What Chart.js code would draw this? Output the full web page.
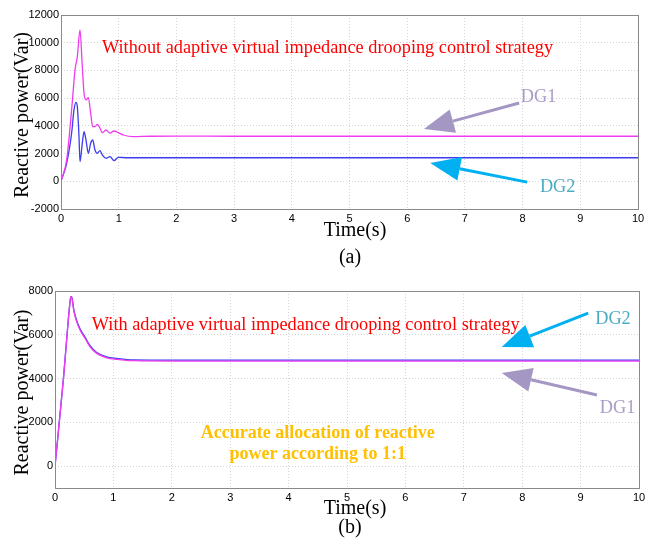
<!DOCTYPE html>
<html>
<head>
<meta charset="utf-8">
<script src="https://cdn.jsdelivr.net/npm/chart.js@4/dist/chart.umd.min.js"></script>
<style>
  html,body{margin:0;padding:0;background:#fff;}
  #wrap{position:relative;width:656px;height:546px;}
  canvas{position:absolute;left:0;}
  #cA{top:0;}
  #cB{top:270px;}
</style>
</head>
<body>
<div id="wrap">
  <canvas id="cA" width="656" height="270" style="width:656px;height:270px"></canvas>
  <canvas id="cB" width="656" height="276" style="width:656px;height:276px"></canvas>
</div>
<script>
// ---- data: (a) without adaptive virtual impedance ----
const timeA_DG1 = [0,0.098,0.184,0.243,0.283,0.329,0.369,0.399,0.433,0.474,0.514,0.549,0.589,0.629,0.676,0.716,0.78,0.849,0.919,0.993,1.08,1.25,1.54,2,3,4,5,6,7,8,9,10];
const qA_DG1    = [0,1540,5150,8040,9000,10920,8280,6350,5870,6040,4910,3940,3940,4110,3830,3510,3700,3470,3630,3510,3340,3220,3250,3260,3250,3250,3250,3250,3250,3250,3250,3250];
const timeA_DG2 = [0,0.098,0.184,0.225,0.26,0.283,0.312,0.329,0.369,0.399,0.433,0.474,0.514,0.549,0.589,0.629,0.676,0.716,0.78,0.849,0.919,0.993,1.14,1.5,2,3,4,5,6,7,8,9,10];
const qA_DG2    = [0,1300,3470,5150,5700,5390,3220,1420,2740,3580,2980,2020,2740,2980,2260,2020,2210,1900,1660,1780,1490,1730,1700,1700,1700,1700,1700,1700,1700,1700,1700,1700,1700];

// ---- data: (b) with adaptive virtual impedance ----
const timeB     = [0,0.142,0.257,0.27,0.285,0.325,0.371,0.428,0.514,0.6,0.714,0.885,1.056,1.34,2,3,4,5,6,7,8,9,10];
const qB_DG1    = [0,3930,7500,7740,7700,7050,6600,6220,5840,5450,5150,4950,4880,4815,4800,4800,4800,4800,4800,4800,4800,4800,4800];
const qB_DG2    = [0,3930,7500,7740,7740,7100,6650,6270,5890,5500,5190,4990,4920,4850,4840,4840,4840,4840,4840,4840,4840,4840,4840];

// ---- ticks ----
const xTicks  = [0,1,2,3,4,5,6,7,8,9,10];
const yTicksA = [-2000,0,2000,4000,6000,8000,10000,12000];
const yTicksB = [-1000,0,2000,4000,6000,8000];
const yLabelsB = ['','0','2000','4000','6000','8000'];

const MAGENTA = '#f03cf0', BLUE = '#3c3cf0';
const SERIF = '"Liberation Serif", "Times New Roman", serif';
const NOTE = '18.3px ' + SERIF;

function pts(ts, vs){ return ts.map((t,i)=>({x:t, y:vs[i]})); }

function arrow(ctx, x1, y1, x2, y2, color){
  const ang = Math.atan2(y2-y1, x2-x1), L = 30, W = 12;
  const bx = x2 - L*Math.cos(ang), by = y2 - L*Math.sin(ang);
  ctx.strokeStyle = color; ctx.fillStyle = color; ctx.lineWidth = 3;
  ctx.beginPath(); ctx.moveTo(x1,y1); ctx.lineTo(bx,by); ctx.stroke();
  ctx.beginPath(); ctx.moveTo(x2,y2);
  ctx.lineTo(bx + W*Math.sin(ang), by - W*Math.cos(ang));
  ctx.lineTo(bx - W*Math.sin(ang), by + W*Math.cos(ang));
  ctx.closePath(); ctx.fill();
}

const deco = {
  id: 'deco',
  afterDraw(chart, args, o){
    const ctx = chart.ctx, a = chart.chartArea, xs = chart.scales.x, ys = chart.scales.y;
    ctx.save();
    // plot box
    ctx.strokeStyle = '#8a8a8a'; ctx.lineWidth = 1;
    ctx.strokeRect(a.left+0.5, a.top+0.5, a.right-a.left, a.bottom-a.top);
    // arrows
    (o.arrows||[]).forEach(r => arrow(ctx, xs.getPixelForValue(r[0]), ys.getPixelForValue(r[1]),
      xs.getPixelForValue(r[2]), ys.getPixelForValue(r[3]), r[4]));
    // notes
    (o.notes||[]).forEach(n => {
      ctx.font = n.font; ctx.fillStyle = n.color; ctx.textAlign = n.align || 'left'; ctx.textBaseline = 'middle';
      ctx.fillText(n.text, xs.getPixelForValue(n.x), ys.getPixelForValue(n.y));
    });
    // axis titles and caption
    ctx.fillStyle = '#000'; ctx.font = '20px ' + SERIF; ctx.textAlign = 'center'; ctx.textBaseline = 'middle';
    ctx.fillText('Time(s)', 355, a.bottom + o.xTitleGap);
    ctx.fillText(o.caption, 350, a.bottom + o.captionGap);
    ctx.translate(23, (a.top + a.bottom)/2 + 3);
    ctx.rotate(-Math.PI/2);
    ctx.fillText('Reactive power(Var)', 0, 0);
    ctx.restore();
  }
};

function makeChart(id, cfg){
  return new Chart(document.getElementById(id), {
    type: 'line',
    data: { datasets: [
      { data: cfg.dg1, borderColor: MAGENTA, borderWidth: 1.3, pointRadius: 0, cubicInterpolationMode: 'monotone' },
      { data: cfg.dg2, borderColor: BLUE, borderWidth: 1.3, pointRadius: 0, cubicInterpolationMode: 'monotone' }
    ]},
    options: {
      responsive: false, animation: false, events: [],
      layout: { padding: { left: 0, right: cfg.padRight, top: cfg.padTop, bottom: 0 } },
      plugins: { legend: {display:false}, tooltip: {enabled:false}, deco: cfg.deco },
      scales: {
        x: {
          type: 'linear', min: 0, max: 10,
          afterBuildTicks: s => { s.ticks = xTicks.map(v=>({value:v})); },
          afterFit: s => { s.height = cfg.xAxisH; },
          grid: { color: '#d4d4d4', drawTicks: false },
          border: { display: false, dash: [1,2] },
          ticks: { color: '#000', padding: 3, font: { family: '"Liberation Sans", Arial, sans-serif', size: 11 } }
        },
        y: {
          min: cfg.yMin, max: cfg.yMax,
          afterBuildTicks: s => { s.ticks = cfg.yTicks.map(v=>({value:v})); },
          afterFit: s => { s.width = cfg.yAxisW; },
          grid: { color: '#d4d4d4', drawTicks: false },
          border: { display: false, dash: [1,2] },
          ticks: { color: '#000', padding: 2, font: { family: '"Liberation Sans", Arial, sans-serif', size: 11 },
                   callback: cfg.yLabel }
        }
      }
    },
    plugins: [deco]
  });
}

makeChart('cA', {
  dg1: pts(timeA_DG1, qA_DG1), dg2: pts(timeA_DG2, qA_DG2),
  yMin: -2000, yMax: 12000, yTicks: yTicksA, yLabel: v => String(v),
  padRight: 18, padTop: 15, xAxisH: 61, yAxisW: 61,
  deco: {
    caption: '(a)', xTitleGap: 22, captionGap: 49,
    notes: [
      { text: 'Without adaptive virtual impedance drooping control strategy', x: 0.71, y: 9600, color: '#ff0000', font: NOTE },
      { text: 'DG1', x: 7.97, y: 6090, color: '#a99ac6', font: NOTE },
      { text: 'DG2', x: 8.30, y: -410, color: '#4bacc6', font: NOTE }
    ],
    arrows: [
      [7.94, 5650, 6.29, 3770, '#a597c4'],
      [8.08, -60, 6.40, 1320, '#00b0f0']
    ]
  }
});

makeChart('cB', {
  dg1: pts(timeB, qB_DG1), dg2: pts(timeB, qB_DG2),
  yMin: -1000, yMax: 8000, yTicks: yTicksB, yLabel: (v, i) => yLabelsB[i],
  padRight: 17, padTop: 21, xAxisH: 58, yAxisW: 55,
  deco: {
    caption: '(b)', xTitleGap: 21, captionGap: 40,
    notes: [
      { text: 'With adaptive virtual impedance drooping control strategy', x: 0.63, y: 6450, color: '#ff0000', font: NOTE },
      { text: 'DG2', x: 9.25, y: 6720, color: '#4bacc6', font: NOTE },
      { text: 'DG1', x: 9.33, y: 2650, color: '#a99ac6', font: NOTE },
      { text: 'Accurate allocation of reactive', x: 4.5, y: 1510, color: '#ffc000', font: 'bold 18px ' + SERIF, align: 'center' },
      { text: 'power according to 1:1', x: 4.5, y: 550, color: '#ffc000', font: 'bold 18px ' + SERIF, align: 'center' }
    ],
    arrows: [
      [9.13, 6990, 7.65, 5440, '#00b0f0'],
      [9.28, 3250, 7.65, 4250, '#a597c4']
    ]
  }
});
</script>
</body>
</html>
